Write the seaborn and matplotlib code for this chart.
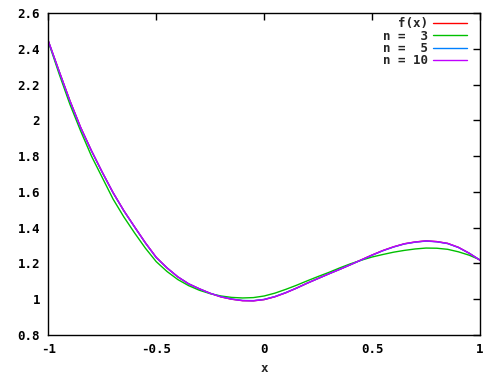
import numpy as np
import pandas as pd
import matplotlib
matplotlib.use("Agg")
import matplotlib.pyplot as plt
import seaborn as sns

# Valeurs (pas de 0.05)
x_vals = [-1.0, -0.95, -0.9, -0.85, -0.8, -0.75, -0.7, -0.65, -0.6, -0.55,
          -0.5, -0.45, -0.4, -0.35, -0.3, -0.25, -0.2, -0.15, -0.1, -0.05,
          0.0, 0.05, 0.1, 0.15, 0.2, 0.25, 0.3, 0.35, 0.4, 0.45,
          0.5, 0.55, 0.6, 0.65, 0.7, 0.75, 0.8, 0.85, 0.9, 0.95, 1.0]
f_vals = [2.444, 2.275, 2.11, 1.96, 1.83, 1.71, 1.596, 1.495, 1.404, 1.315,
          1.234, 1.175, 1.125, 1.086, 1.058, 1.033, 1.013, 1.000, 0.992, 0.991,
          0.998, 1.014, 1.036, 1.062, 1.090, 1.116, 1.142, 1.167, 1.193, 1.220,
          1.247, 1.272, 1.293, 1.310, 1.320, 1.326, 1.322, 1.312, 1.290, 1.257, 1.218]
n3_vals = [2.44, 2.26, 2.09, 1.94, 1.80, 1.68, 1.56, 1.46, 1.37, 1.285,
           1.21, 1.155, 1.11, 1.076, 1.050, 1.031, 1.018, 1.010, 1.007, 1.009,
           1.018, 1.034, 1.055, 1.078, 1.103, 1.127, 1.150, 1.175, 1.198, 1.218,
           1.236, 1.250, 1.263, 1.273, 1.281, 1.286, 1.285, 1.279, 1.265, 1.246, 1.220]
n5_vals = [2.443, 2.274, 2.108, 1.958, 1.829, 1.709, 1.595, 1.494, 1.403, 1.314,
           1.233, 1.175, 1.125, 1.086, 1.058, 1.033, 1.014, 1.001, 0.993, 0.992,
           0.999, 1.015, 1.037, 1.062, 1.090, 1.116, 1.142, 1.167, 1.193, 1.219,
           1.246, 1.271, 1.292, 1.309, 1.319, 1.325, 1.321, 1.311, 1.289, 1.257, 1.219]
n10_vals = [2.444, 2.275, 2.11, 1.96, 1.83, 1.71, 1.596, 1.495, 1.404, 1.315,
            1.234, 1.175, 1.125, 1.086, 1.058, 1.033, 1.013, 1.000, 0.992, 0.991,
            0.998, 1.014, 1.036, 1.062, 1.090, 1.116, 1.142, 1.167, 1.193, 1.220,
            1.247, 1.272, 1.293, 1.310, 1.320, 1.326, 1.322, 1.312, 1.290, 1.257, 1.218]

series_labels = ["f(x)", "n =  3", "n =  5", "n = 10"]
series_colors = ["#ff0000", "#00c000", "#0080ff", "#c000ff"]

x_ticks = [-1, -0.5, 0, 0.5, 1]
x_tick_labels = ["-1", "-0.5", "0", "0.5", "1"]
y_ticks = [0.8, 1.0, 1.2, 1.4, 1.6, 1.8, 2.0, 2.2, 2.4, 2.6]
y_tick_labels = ["0.8", "1", "1.2", "1.4", "1.6", "1.8", "2", "2.2", "2.4", "2.6"]

# Tableau long pour seaborn
frames = []
for label, vals in zip(series_labels, [f_vals, n3_vals, n5_vals, n10_vals]):
    frames.append(pd.DataFrame({"x": x_vals, "y": vals, "serie": label}))
df = pd.concat(frames, ignore_index=True)

sns.set_style("white")
plt.rcParams['font.family'] = ['DejaVu Sans Mono']
plt.rcParams['font.weight'] = 'bold'

fig = plt.figure(figsize=(5, 3.75), dpi=100)
ax = fig.add_axes([0.0966, 0.1067, 0.8634, 0.8586])

sns.lineplot(data=df, x="x", y="y", hue="serie", hue_order=series_labels,
             palette=series_colors, linewidth=1, ax=ax, sort=False)

ax.set_xlim(-1, 1)
ax.set_ylim(0.8, 2.6)
ax.set_xticks(x_ticks)
ax.set_xticklabels(x_tick_labels)
ax.set_yticks(y_ticks)
ax.set_yticklabels(y_tick_labels)
ax.tick_params(direction='in', length=5, width=1, top=True, right=True,
               labelsize=9, colors='black', pad=6)
for lab in ax.get_xticklabels() + ax.get_yticklabels():
    lab.set_fontweight('bold')
for spine in ax.spines.values():
    spine.set_visible(True)
    spine.set_color('black')
    spine.set_linewidth(1)
ax.set_xlabel("x", fontsize=9, fontweight='bold', labelpad=4)
ax.set_ylabel("")

handles, labels = ax.get_legend_handles_labels()
ax.legend(handles, labels, loc='upper right', bbox_to_anchor=(0.995, 1.022),
          frameon=False, markerfirst=False, handlelength=2.65, handletextpad=0.45,
          labelspacing=-0.045, prop={'family': 'DejaVu Sans Mono', 'weight': 'bold', 'size': 9})

fig.savefig("out.png", dpi=100)
